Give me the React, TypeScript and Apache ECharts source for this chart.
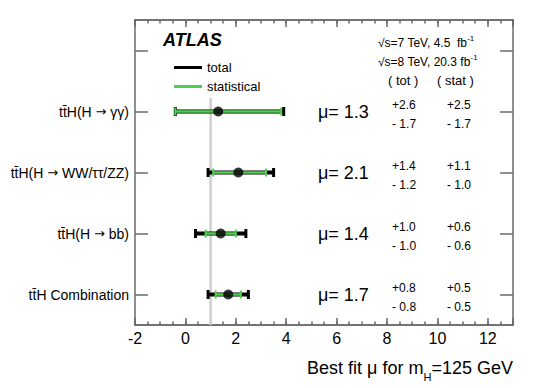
import React, { useEffect, useRef } from "react";
import * as echarts from "echarts";

// ---- data ----
const categories = ["tt\u0304H Combination", "tt\u0304H(H \u2192 bb)", "tt\u0304H(H \u2192 WW/\u03c4\u03c4/ZZ)", "tt\u0304H(H \u2192 \u03b3\u03b3)", ""];
const mu = [1.7, 1.4, 2.1, 1.3];
const totUp = [0.8, 1.0, 1.4, 2.6];
const totDn = [0.8, 1.0, 1.2, 1.7];
const statUp = [0.5, 0.6, 1.1, 2.5];
const statDn = [0.5, 0.6, 1.0, 1.7];
const smValue = 1;
const xMin = -2;
const xMax = 13;
const xMajor = 2;
const xMinor = 0.5;

const FONT = "'Liberation Sans', Arial, Helvetica, sans-serif";
const GREEN = "#4fd14f";
const FRAME = "#6a6a6a";

export default function App() {
  const ref = useRef<HTMLDivElement>(null);
  useEffect(() => {
    if (!ref.current) return;
    const chart = echarts.init(ref.current, null, { renderer: "svg" });

    const totalData = mu.map((m, i) => [i, m - totDn[i], m + totUp[i]]);
    const statData = mu.map((m, i) => [i, m - statDn[i], m + statUp[i]]);
    const pointData = mu.map((m, i) => [m, i]);
    const annData = mu.map((m, i) => [i, m, totUp[i], totDn[i], statUp[i], statDn[i]]);

    const lineStyle = { color: FRAME, width: 1.5 };
    const xBase: any = {
      type: "value",
      min: xMin,
      max: xMax,
      splitLine: { show: false },
      axisLine: { show: true, onZero: false, lineStyle },
    };

    const barRender = (color: string, lw: number, capW: number, capH: number) => (params: any, api: any) => {
      const cat = api.value(0);
      const p1 = api.coord([api.value(1), cat]);
      const p2 = api.coord([api.value(2), cat]);
      return {
        type: "group",
        children: [
          { type: "line", shape: { x1: p1[0], y1: p1[1], x2: p2[0], y2: p2[1] }, style: { stroke: color, lineWidth: lw } },
          { type: "rect", shape: { x: p1[0] - capW / 2, y: p1[1] - capH / 2, width: capW, height: capH }, style: { fill: color } },
          { type: "rect", shape: { x: p2[0] - capW / 2, y: p2[1] - capH / 2, width: capW, height: capH }, style: { fill: color } },
        ],
      };
    };

    const fmt = (v: number) => v.toFixed(1);

    const option: any = {
      animation: false,
      grid: { left: 135, right: 27, top: 20, bottom: 63, containLabel: false },
      legend: {
        data: [
          { name: "total", icon: "rect" },
          { name: "statistical", icon: "rect" },
        ],
        orient: "vertical",
        left: 169,
        top: 55.5,
        itemWidth: 28,
        itemHeight: 3,
        itemGap: 5,
        selectedMode: false,
        textStyle: { fontSize: 13, color: "#000", fontFamily: FONT, lineHeight: 14 },
      },
      xAxis: [
        {
          ...xBase,
          position: "bottom",
          interval: xMajor,
          axisTick: { show: true, inside: true, length: 7, lineStyle },
          axisLabel: {
            fontSize: 16,
            color: "#000",
            fontFamily: FONT,
            margin: 5,
            formatter: (v: number) => (v % xMajor === 0 ? String(v) : ""),
          },
        },
        { ...xBase, position: "bottom", interval: xMinor, axisTick: { show: true, inside: true, length: 3.5, lineStyle }, axisLabel: { show: false } },
        { ...xBase, position: "top", interval: xMajor, axisTick: { show: true, inside: true, length: 7, lineStyle }, axisLabel: { show: false } },
        { ...xBase, position: "top", interval: xMinor, axisTick: { show: true, inside: true, length: 3.5, lineStyle }, axisLabel: { show: false } },
      ],
      yAxis: [
        {
          type: "category",
          data: categories,
          position: "left",
          boundaryGap: true,
          axisLine: { show: true, onZero: false, lineStyle },
          axisTick: { show: true, inside: true, length: 13, alignWithLabel: true, interval: 0, lineStyle },
          axisLabel: {
            fontSize: 14,
            color: "#000",
            fontFamily: FONT,
            margin: 6,
            interval: 0,
            formatter: (v: string) => v.replace("\u2192", "{ar|\u2192}"),
            rich: { ar: { fontFamily: "'DejaVu Sans'", fontSize: 13, color: "#000" } },
          },
          splitLine: { show: false },
        },
        {
          type: "category",
          data: categories,
          position: "right",
          boundaryGap: true,
          axisLine: { show: true, onZero: false, lineStyle },
          axisTick: { show: true, inside: true, length: 13, alignWithLabel: true, interval: 0, lineStyle },
          axisLabel: { show: false },
          splitLine: { show: false },
        },
      ],
      series: [
        {
          name: "sm",
          type: "custom",
          z: 1,
          silent: true,
          encode: { x: 0, y: 1 },
          data: [[smValue, 0]],
          renderItem: (params: any, api: any) => {
            const x = api.coord([api.value(0), 0])[0];
            const cs = params.coordSys;
            const y3 = api.coord([api.value(0), 3])[1];
            const y4 = api.coord([api.value(0), 4])[1];
            const yTop = y3 + 0.22 * (y4 - y3);
            return {
              type: "line",
              shape: { x1: x, y1: cs.y + cs.height, x2: x, y2: yTop },
              style: { stroke: "#cfcfcf", lineWidth: 2.5 },
            };
          },
        },
        {
          name: "total",
          type: "custom",
          z: 2,
          itemStyle: { color: "#000" },
          encode: { x: [1, 2], y: 0 },
          data: totalData,
          renderItem: barRender("#000", 4, 3, 9),
        },
        {
          name: "statistical",
          type: "custom",
          z: 3,
          itemStyle: { color: GREEN },
          encode: { x: [1, 2], y: 0 },
          data: statData,
          renderItem: barRender(GREEN, 2.5, 2, 8),
        },
        {
          name: "best fit",
          type: "scatter",
          z: 4,
          symbol: "circle",
          symbolSize: 10,
          itemStyle: { color: "#000" },
          data: pointData,
        },
        {
          name: "values",
          type: "custom",
          z: 5,
          silent: true,
          encode: { x: 1, y: 0 },
          data: annData,
          renderItem: (params: any, api: any) => {
            const cat = api.value(0);
            const pMu = api.coord([5.26, cat]);
            const pTot = api.coord([8.2, cat]);
            const pStat = api.coord([10.38, cat]);
            const small = { fill: "#000", fontSize: 12, fontFamily: FONT, verticalAlign: "middle", align: "left" };
            return {
              type: "group",
              children: [
                {
                  type: "text",
                  x: pMu[0],
                  y: pMu[1],
                  style: { text: "\u03bc= " + fmt(api.value(1)), fill: "#000", fontSize: 18, fontFamily: FONT, verticalAlign: "middle", align: "left" },
                },
                { type: "text", x: pTot[0], y: pTot[1] - 7, style: { ...small, text: "+" + fmt(api.value(2)) } },
                { type: "text", x: pTot[0], y: pTot[1] + 12, style: { ...small, text: "- " + fmt(api.value(3)) } },
                { type: "text", x: pStat[0], y: pStat[1] - 7, style: { ...small, text: "+" + fmt(api.value(4)) } },
                { type: "text", x: pStat[0], y: pStat[1] + 12, style: { ...small, text: "- " + fmt(api.value(5)) } },
              ],
            };
          },
        },
      ],
      graphic: [
        {
          type: "text",
          x: 163,
          y: 40,
          style: { text: "ATLAS", fontSize: 18, fontWeight: "bold", fontStyle: "italic", fontFamily: FONT, fill: "#000", verticalAlign: "middle" },
        },
        {
          type: "text",
          x: 378,
          y: 42.5,
          style: {
            text: "{a|\u221as=7 TeV, 4.5  fb}{s|-1}",
            verticalAlign: "middle",
            rich: {
              a: { fontSize: 12, fontFamily: FONT, fill: "#000", lineHeight: 16 },
              s: { fontSize: 8, fontFamily: FONT, fill: "#000", lineHeight: 8, verticalAlign: "top" },
            },
          },
        },
        {
          type: "text",
          x: 378,
          y: 61.5,
          style: {
            text: "{a|\u221as=8 TeV, 20.3 fb}{s|-1}",
            verticalAlign: "middle",
            rich: {
              a: { fontSize: 12, fontFamily: FONT, fill: "#000", lineHeight: 16 },
              s: { fontSize: 8, fontFamily: FONT, fill: "#000", lineHeight: 8, verticalAlign: "top" },
            },
          },
        },
        {
          type: "text",
          x: 388,
          y: 80.5,
          style: { text: "( tot )", fontSize: 13, fontFamily: FONT, fill: "#000", verticalAlign: "middle" },
        },
        {
          type: "text",
          x: 437,
          y: 80.5,
          style: { text: "( stat )", fontSize: 13, fontFamily: FONT, fill: "#000", verticalAlign: "middle" },
        },
        {
          type: "text",
          x: 513,
          y: 367.5,
          style: {
            text: "{a|Best fit \u03bc for m}{s|H}{a|=125 GeV}",
            align: "right",
            verticalAlign: "middle",
            rich: {
              a: { fontSize: 18, fontFamily: FONT, fill: "#000", lineHeight: 30 },
              s: { fontSize: 11, fontFamily: FONT, fill: "#000", lineHeight: 10, verticalAlign: "bottom" },
            },
          },
        },
      ],
    };

    chart.setOption(option);
    return () => chart.dispose();
  }, []);

  return <div ref={ref} style={{ position: "absolute", left: 0, top: 0, width: 540, height: 388 }} />;
}
